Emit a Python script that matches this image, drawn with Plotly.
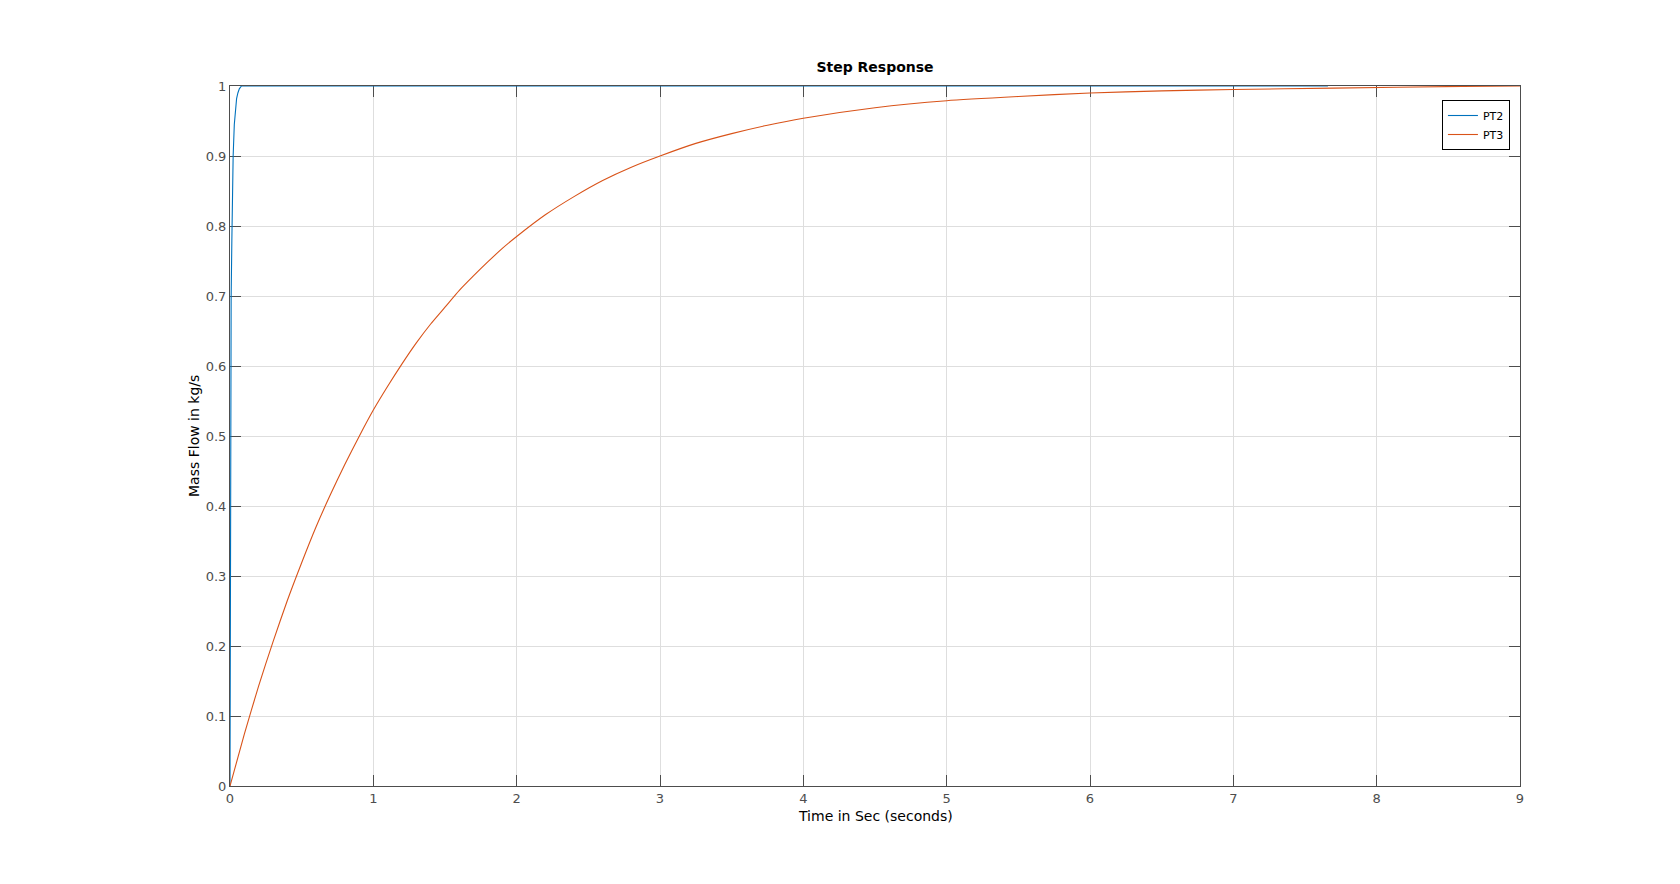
import plotly.graph_objects as go

# PT2 step response (fast second-order)
pt2_t = [0, 0.003, 0.008, 0.013, 0.018, 0.022, 0.03, 0.038, 0.046, 0.055, 0.065, 0.08, 7.66]
pt2_y = [0, 0.653, 0.70, 0.78, 0.86, 0.90, 0.945, 0.968, 0.982, 0.99, 0.996, 1.0, 1.0]

# PT3 step response
pt3_t = [0, 0.1, 0.2, 0.3, 0.4, 0.5, 0.6, 0.7, 0.8, 0.9, 1.0, 1.1, 1.2, 1.3, 1.4, 1.5,
         1.6, 1.7, 1.8, 1.9, 2.0, 2.2, 2.4, 2.6, 2.8, 3.0, 3.25, 3.5, 3.75, 4.0, 4.5,
         5.0, 5.5, 6.0, 6.5, 7.0, 7.7, 8.6, 9.0]
pt3_y = [0, 0.074, 0.143, 0.206, 0.265, 0.319, 0.370, 0.416, 0.459, 0.499, 0.537, 0.571,
         0.603, 0.633, 0.660, 0.684, 0.708, 0.729, 0.749, 0.768, 0.785, 0.816, 0.842,
         0.865, 0.884, 0.900, 0.918, 0.932, 0.944, 0.954, 0.969, 0.979, 0.985, 0.990,
         0.993, 0.995, 0.997, 0.9995, 1.0]

x_ticks = [0, 1, 2, 3, 4, 5, 6, 7, 8, 9]
y_ticks = [0, 0.1, 0.2, 0.3, 0.4, 0.5, 0.6, 0.7, 0.8, 0.9, 1]
y_tick_labels = ["0", "0.1", "0.2", "0.3", "0.4", "0.5", "0.6", "0.7", "0.8", "0.9", "1"]

FONT = "DejaVu Sans"
AX = "#4d4d4d"

fig = go.Figure()
fig.add_trace(go.Scatter(x=pt2_t, y=pt2_y, mode="lines", name="PT2",
                         line=dict(color="#0072BD", width=1.1)))
fig.add_trace(go.Scatter(x=pt3_t, y=pt3_y, mode="lines", name="PT3",
                         line=dict(color="#D95319", width=1.1, shape="spline", smoothing=0.6)))

axis_common = dict(
    showline=True, linecolor=AX, linewidth=1, mirror="allticks",
    ticks="inside", ticklen=11, tickwidth=1, tickcolor=AX,
    showgrid=True, gridcolor="#dedede", gridwidth=1,
    zeroline=False, tickfont=dict(family=FONT, size=13, color=AX),
    layer="below traces",
)

# page has an 8px body margin; plot area target (page px): x 230..1520, y 86..786
fig.update_layout(
    width=1680, height=884,
    paper_bgcolor="white", plot_bgcolor="white",
    margin=dict(l=222, r=168, t=78, b=106, autoexpand=False),
    title=dict(text="<b>Step Response</b>", x=867 / 1680, xanchor="center",
               y=1 - 59 / 884, yanchor="middle", yref="container",
               font=dict(family=FONT, size=14, color="black")),
    xaxis=dict(range=[0, 9], tickvals=x_ticks, **axis_common),
    yaxis=dict(range=[0, 1], tickvals=y_ticks, ticktext=y_tick_labels, **axis_common),
    showlegend=True,
    legend=dict(x=0.9922, y=0.98, xanchor="right", yanchor="top",
                bgcolor="white", bordercolor="black", borderwidth=1,
                font=dict(family=FONT, size=11, color="black"),
                tracegroupgap=0, itemwidth=30),
    annotations=[
        dict(text="Time in Sec (seconds)", xref="paper", yref="paper",
             x=0.5, y=-(816 - 786) / 700, xanchor="center", yanchor="middle",
             showarrow=False, font=dict(family=FONT, size=14, color="black")),
        dict(text="Mass Flow in kg/s", xref="paper", yref="paper",
             x=(194 - 230) / 1290, y=0.5, xanchor="center", yanchor="middle",
             textangle=-90, showarrow=False,
             font=dict(family=FONT, size=14, color="black")),
    ],
)

fig.write_html("out.html")
